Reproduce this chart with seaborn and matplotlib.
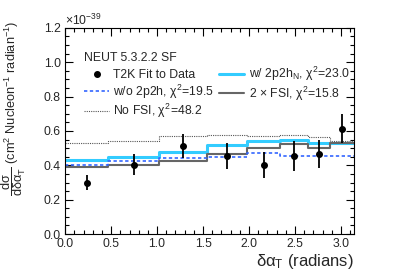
import numpy as np
import matplotlib
matplotlib.use("Agg")
import matplotlib.pyplot as plt
import seaborn as sns
from matplotlib.ticker import MultipleLocator, FormatStrFormatter
from matplotlib.lines import Line2D

sns.set_theme(style="ticks")
plt.rcParams['font.family'] = ['Liberation Sans', 'DejaVu Sans']
plt.rcParams['mathtext.fontset'] = 'custom'
plt.rcParams['mathtext.rm'] = 'Liberation Sans'
plt.rcParams['mathtext.it'] = 'Liberation Sans'

# bin edges (radians) and values in units of 1e-39 cm^2 / nucleon / radian
bin_edges = [0.0, 0.47, 1.02, 1.54, 1.98, 2.34, 2.64, 2.88, np.pi]
data_x = [0.235, 0.745, 1.28, 1.76, 2.16, 2.49, 2.76, 3.01]
data_y = [0.299, 0.402, 0.513, 0.456, 0.402, 0.456, 0.466, 0.613]
data_err = [0.043, 0.061, 0.071, 0.075, 0.078, 0.088, 0.080, 0.085]

w2p2hN = [0.431, 0.448, 0.476, 0.516, 0.542, 0.547, 0.532, 0.528]
fsi2x = [0.392, 0.400, 0.425, 0.468, 0.503, 0.524, 0.499, 0.532]
wo2p2h = [0.402, 0.423, 0.444, 0.450, 0.470, 0.456, 0.452, 0.454]
nofsi = [0.528, 0.543, 0.573, 0.578, 0.573, 0.575, 0.567, 0.540]

styles = {
    'nofsi': dict(color='#555555', lw=0.8, linestyle=(0, (1, 1))),
    'w2p2hN': dict(color='#33ccff', lw=2.2, linestyle='-'),
    'fsi2x': dict(color='#666666', lw=1.5, linestyle='-'),
    'wo2p2h': dict(color='#3366ff', lw=1.2, linestyle=(0, (2, 1.5))),
}

fig = plt.figure(figsize=(4.07, 2.76), dpi=100)
ax = fig.add_axes([0.16, 0.152, 0.71, 0.747])


def steps(vals, st):
    sns.lineplot(x=bin_edges, y=list(vals) + [vals[-1]], drawstyle='steps-post',
                 estimator=None, sort=False, ax=ax, **st)


steps(nofsi, styles['nofsi'])
steps(w2p2hN, styles['w2p2hN'])
steps(fsi2x, styles['fsi2x'])
steps(wo2p2h, styles['wo2p2h'])

ax.errorbar(data_x, data_y, yerr=data_err, fmt='o', color='black', ms=4,
            elinewidth=1.3, capsize=0)

handles = [
    Line2D([], [], color='black', marker='o', ms=4, lw=1.3, linestyle='none'),
    Line2D([], [], **styles['wo2p2h']),
    Line2D([], [], **styles['nofsi']),
    Line2D([], [], **styles['w2p2hN']),
    Line2D([], [], **styles['fsi2x']),
]
labels = ['T2K Fit to Data', r'w/o 2p2h, $\chi^2$=19.5', r'No FSI, $\chi^2$=48.2',
          r'w/ 2p2h$_{N}$, $\chi^2$=23.0', r'2 $\times$ FSI, $\chi^2$=15.8']
ax.legend(handles, labels, ncol=2, loc='upper left', bbox_to_anchor=(0.036, 0.925),
          frameon=False, fontsize=8.8, title='NEUT 5.3.2.2 SF', title_fontsize=8.8,
          alignment='left', handlelength=2.05, handletextpad=0.35,
          columnspacing=0.4, labelspacing=0.1, borderpad=0.2)

ax.set_xlim(0, np.pi)
ax.set_ylim(0, 1.2)
ax.xaxis.set_major_locator(MultipleLocator(0.5))
ax.xaxis.set_minor_locator(MultipleLocator(0.1))
ax.yaxis.set_major_locator(MultipleLocator(0.2))
ax.yaxis.set_minor_locator(MultipleLocator(0.05))
ax.xaxis.set_major_formatter(FormatStrFormatter('%.1f'))
ax.yaxis.set_major_formatter(FormatStrFormatter('%.1f'))
ax.tick_params(which='both', direction='in', top=True, right=True, labelsize=8.8,
               color='black', width=0.8)
ax.tick_params(which='major', length=6, pad=3)
ax.tick_params(which='minor', length=3)
for s in ax.spines.values():
    s.set_visible(True)
    s.set_color('black')
    s.set_linewidth(0.8)

ax.set_xlabel(r'$\delta\alpha_{T}$ (radians)', fontsize=12, loc='right', labelpad=1)
ax.set_ylabel(r'$\dfrac{d\sigma}{d\delta\alpha_{T}}$ (cm$^{2}$ Nucleon$^{-1}$ radian$^{-1}$)',
              fontsize=9.2, loc='top')
ax.yaxis.set_label_coords(-0.128, 1.035)
ax.text(0.0, 1.0, r'$\times$10$^{-39}$', transform=ax.transAxes, fontsize=8.8,
        ha='left', va='bottom')

fig.savefig('out.png', dpi=100)
